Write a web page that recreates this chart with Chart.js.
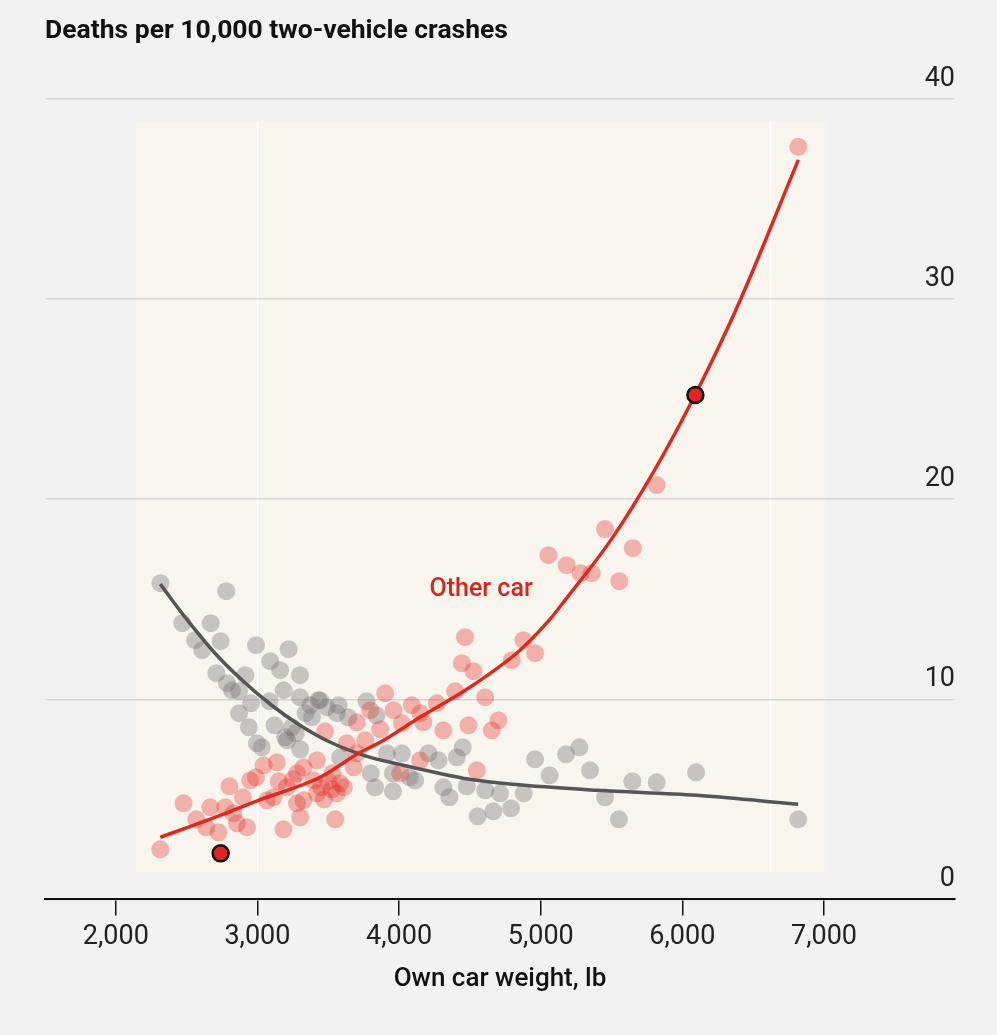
<!DOCTYPE html>
<html>
<head>
<meta charset="utf-8">
<script src="https://cdn.jsdelivr.net/npm/chart.js@4.4.1/dist/chart.umd.min.js"></script>
<style>
  html, body { margin: 0; padding: 0; background: #f2f2f2; }
  canvas { display: block; }
</style>
</head>
<body>
<canvas id="chart" width="997" height="1035"></canvas>
<script>
// ---------- DATA ----------
const titleText = 'Deaths per 10,000 two-vehicle crashes';
const xAxisTitle = 'Own car weight, lb';
const seriesLabel = 'Other car';

const xTickValues = [2000, 3000, 4000, 5000, 6000, 7000];
const yTickValues = [0, 10, 20, 30, 40];

// Own-car deaths (grey dots)
const ownCarWeight = [2315, 2780, 2470, 2670, 2560, 2740, 2610, 2990, 3220, 3090, 3160, 3300, 2710, 2915, 2785, 2820,
  3185, 2870, 2955, 3085, 2870, 2940, 3030, 3120, 3210, 3340, 3430, 3385, 3490, 3270, 3560, 3770, 3840,
  3300, 3373, 3443, 3573, 3641, 3243, 3196, 3302, 2996, 3584,
  3800, 3914, 4020, 4075, 3830, 3957, 4113, 4207, 4278, 4408, 4450, 4313, 4355, 4478, 4555, 4665, 4790,
  4713, 4880, 4960, 5063, 5179, 5273, 5348, 5454, 5552, 5647, 5819, 6097, 6818, 4608, 3957];
const ownCarDeaths = [15.8, 15.4, 13.8, 13.8, 12.95, 12.9, 12.45, 12.7, 12.5, 11.9, 11.45, 11.2, 11.3, 11.2, 10.8, 10.45,
  10.45, 10.4, 9.8, 9.9, 9.3, 8.6, 7.6, 8.7, 7.95, 9.3, 9.95, 9.1, 9.6, 8.3, 9.3, 9.9, 9.2,
  10.1, 9.7, 9.95, 9.7, 9.1, 8.6, 8.1, 7.5, 7.8, 7.1,
  6.3, 7.3, 7.3, 6.1, 5.6, 5.4, 5.95, 7.3, 6.95, 7.1, 7.6, 5.6, 5.1, 5.65, 4.15, 4.4, 4.55,
  5.3, 5.3, 7.0, 6.2, 7.25, 7.6, 6.45, 5.1, 4.0, 5.9, 5.85, 6.35, 4.0, 5.45, 6.3];

// Other-car deaths (red dots)
const otherCarWeight = [2314, 2478, 2568, 2639, 2667, 2725, 2773, 2803, 2830, 2855, 2898, 2926, 2949, 3043, 3067, 3114,
  3137, 3184, 3208, 3279, 3279, 3302, 3325, 3325, 3396, 3420, 3420, 3478, 3526, 3549, 3584, 3631, 3680,
  3702, 3702, 3761, 3796, 3867, 3902, 3961, 4008, 4020, 4090, 4150, 4148, 4172, 4267, 4313, 4396, 4443,
  4466, 4490, 4525, 4549, 4608, 4655, 4702, 4796, 4878, 4960, 5055, 5183, 5282, 5360, 5454, 5555, 5650,
  5819, 6819, 3450, 3500, 3560, 3610, 3470, 3530, 3250, 3150, 2990];
const otherCarDeaths = [2.5, 4.8, 4.0, 3.6, 4.6, 3.35, 4.6, 5.65, 4.3, 3.8, 5.1, 3.6, 5.95, 6.7, 4.95, 5.1,
  6.85, 3.5, 5.6, 6.3, 4.8, 4.1, 4.95, 6.6, 5.95, 5.3, 6.95, 8.4, 5.5, 4.0, 5.8, 7.8, 6.6,
  8.85, 7.3, 7.95, 9.45, 8.5, 10.3, 9.45, 6.3, 8.8, 9.7, 9.3, 6.95, 8.85, 9.8, 8.45, 10.4, 11.8,
  13.1, 8.7, 11.4, 6.45, 10.1, 8.45, 8.95, 11.95, 12.95, 12.3, 17.2, 16.7, 16.3, 16.3, 18.5, 15.9, 17.55,
  20.7, 37.6, 5.6, 5.9, 5.3, 5.6, 5.0, 6.3, 6.0, 5.9, 6.1];

// Fitted curves
const ownFitWeight = [2314, 2500, 2700, 2900, 3100, 3300, 3500, 3750, 4000, 4250, 4500, 4800, 5400, 6100, 6818];
const ownFitDeaths = [15.75, 14.0, 12.3, 10.9, 9.7, 8.7, 7.9, 7.2, 6.75, 6.35, 6.0, 5.75, 5.45, 5.2, 4.75];
const otherFitWeight = [2314, 2700, 3008, 3443, 3714, 3866, 4148, 4500, 4854, 5066, 5172, 5500, 5800, 6090, 6400, 6819];
const otherFitDeaths = [3.1, 4.1, 4.95, 6.1, 7.3, 7.85, 9.1, 10.6, 12.45, 14.0, 14.95, 18.0, 21.4, 25.2, 29.8, 36.95];

// Highlighted cars
const highlightWeight = [2740, 6092];
const highlightDeaths = [2.3, 25.2];

// Shaded panel, scan seams & label position (data units)
const panelX = [2138, 7007];
const panelY = [1.35, 38.85];
const seamX = [3000, 6620];
const labelAt = [4579, 15.45];

// ---------- BUILD ----------
const zip = (xs, ys) => xs.map((x, i) => ({ x: x, y: ys[i] }));
const FONT = 'Roboto, "Noto Sans", "DejaVu Sans", sans-serif';

const backgroundPlugin = {
  id: 'bg',
  beforeDraw(chart) {
    const { ctx, scales: { x, y } } = chart;
    ctx.save();
    ctx.fillStyle = '#f2f2f2';
    ctx.fillRect(0, 0, chart.width, chart.height);
    const l = x.getPixelForValue(panelX[0]), r = x.getPixelForValue(panelX[1]);
    const t = y.getPixelForValue(panelY[1]), b = y.getPixelForValue(panelY[0]);
    ctx.fillStyle = '#f8f5ef';
    ctx.fillRect(l, t, r - l, b - t);
    ctx.strokeStyle = 'rgba(255,255,255,0.95)';
    ctx.lineWidth = 1.5;
    seamX.forEach(v => {
      const px = Math.round(x.getPixelForValue(v)) + 0.5;
      ctx.beginPath();
      ctx.moveTo(px, t);
      ctx.lineTo(px, b);
      ctx.stroke();
    });
    ctx.restore();
  }
};

const labelPlugin = {
  id: 'lbl',
  afterDatasetsDraw(chart) {
    const { ctx, scales: { x, y } } = chart;
    ctx.save();
    ctx.font = '500 25px ' + FONT;
    ctx.fillStyle = '#d7261e';
    ctx.textAlign = 'center';
    ctx.textBaseline = 'middle';
    ctx.fillText(seriesLabel, x.getPixelForValue(labelAt[0]), y.getPixelForValue(labelAt[1]));
    ctx.restore();
  }
};

new Chart(document.getElementById('chart'), {
  type: 'scatter',
  data: {
    datasets: [
      {
        label: 'highlight', data: zip(highlightWeight, highlightDeaths), order: 0,
        pointRadius: 8, pointBackgroundColor: '#e0261f', pointBorderColor: '#111', pointBorderWidth: 2.5
      },
      {
        label: 'other fit', data: zip(otherFitWeight, otherFitDeaths), order: 1, showLine: true,
        borderColor: '#dc2a1f', borderWidth: 3.5, pointRadius: 0, cubicInterpolationMode: 'monotone', tension: 0.4
      },
      {
        label: 'own fit', data: zip(ownFitWeight, ownFitDeaths), order: 2, showLine: true,
        borderColor: '#555555', borderWidth: 3.5, pointRadius: 0, cubicInterpolationMode: 'monotone', tension: 0.4
      },
      {
        label: 'other', data: zip(otherCarWeight, otherCarDeaths), order: 3,
        pointRadius: 9, pointBackgroundColor: 'rgba(228,40,30,0.33)', pointBorderWidth: 0
      },
      {
        label: 'own', data: zip(ownCarWeight, ownCarDeaths), order: 4,
        pointRadius: 9, pointBackgroundColor: 'rgba(110,110,110,0.36)', pointBorderWidth: 0
      }
    ]
  },
  options: {
    responsive: false,
    animation: false,
    events: [],
    layout: { padding: { left: 45, right: 42, top: 0, bottom: 40 } },
    plugins: {
      legend: { display: false },
      tooltip: { enabled: false },
      title: {
        display: true, text: titleText, align: 'start', color: '#111',
        font: { family: FONT, size: 26.5, weight: 'bold' },
        padding: { top: 15, bottom: 52 }
      }
    },
    scales: {
      x: {
        type: 'linear', position: 'bottom', min: 1500, max: 7925,
        afterBuildTicks: (axis) => { axis.ticks = xTickValues.map(v => ({ value: v })); },
        border: { display: true, color: '#111', width: 2 },
        grid: { drawOnChartArea: false, drawTicks: true, tickLength: 16, color: '#111', lineWidth: 1.5 },
        ticks: {
          color: '#222', padding: 6, maxRotation: 0, font: { family: FONT, size: 27 },
          callback: (v) => v.toLocaleString('en-US')
        },
        title: {
          display: true, text: xAxisTitle, color: '#111',
          font: { family: FONT, size: 26, weight: '500' }, padding: { top: 4, bottom: 0 }
        }
      },
      y: {
        type: 'linear', position: 'right', min: 0, max: 40,
        afterBuildTicks: (axis) => { axis.ticks = yTickValues.map(v => ({ value: v })); },
        border: { display: false },
        grid: { drawTicks: false, color: '#d6d6d6', lineWidth: 1.5 },
        ticks: {
          mirror: true, padding: 0, crossAlign: 'near', labelOffset: -20,
          color: '#222', font: { family: FONT, size: 27 }
        }
      }
    }
  },
  plugins: [backgroundPlugin, labelPlugin]
});
</script>
</body>
</html>
